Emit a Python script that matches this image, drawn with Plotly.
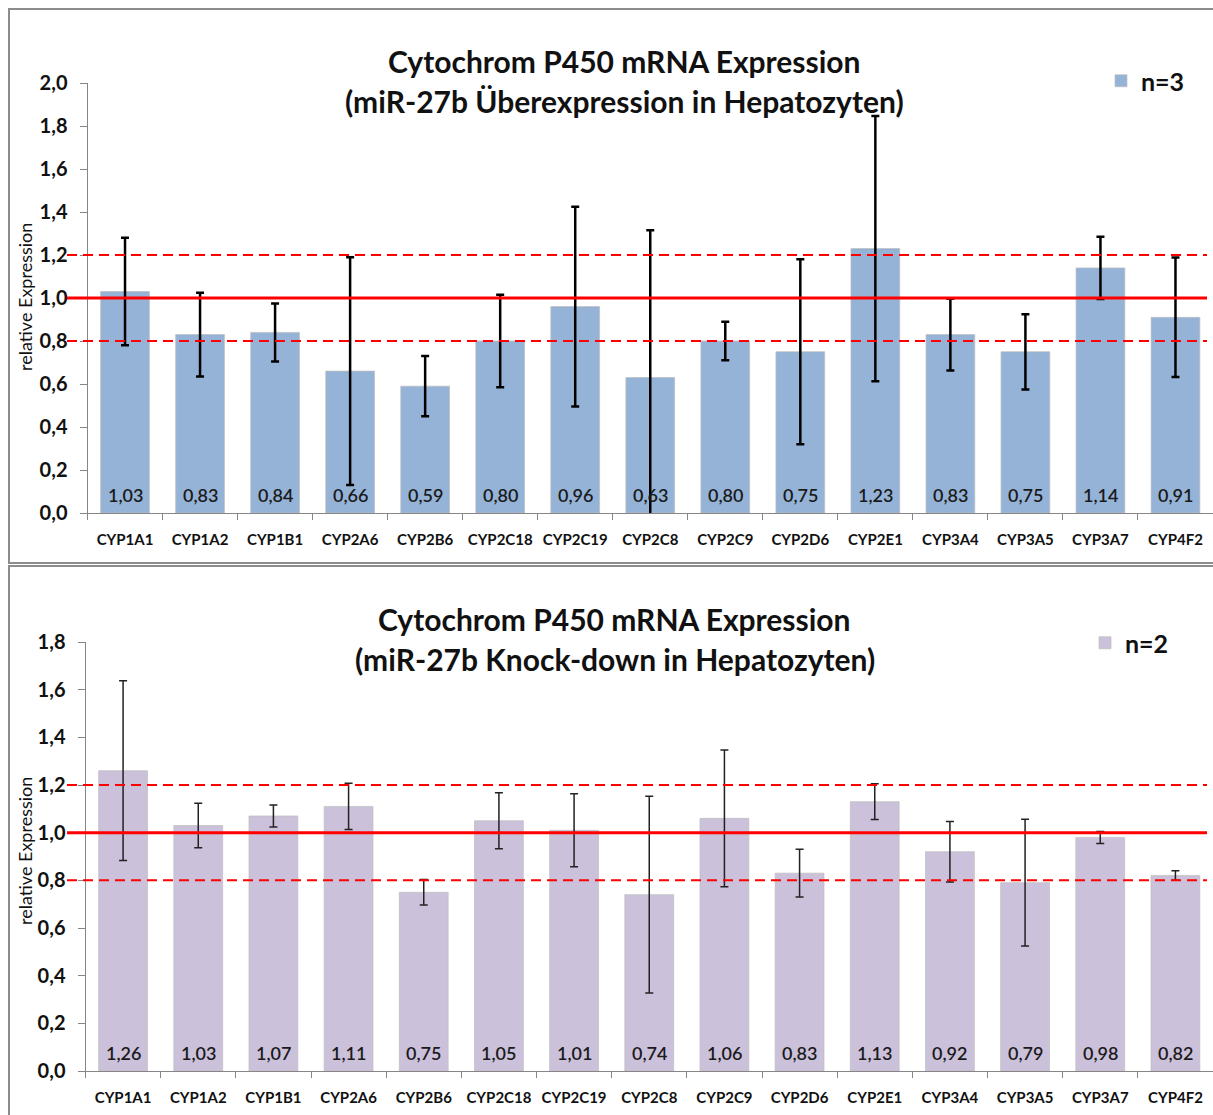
import plotly.graph_objects as go

W, H = 1213, 1115

# CYP450 genes measured by qPCR
genes = ["CYP1A1", "CYP1A2", "CYP1B1", "CYP2A6", "CYP2B6", "CYP2C18", "CYP2C19",
         "CYP2C8", "CYP2C9", "CYP2D6", "CYP2E1", "CYP3A4", "CYP3A5", "CYP3A7", "CYP4F2"]

# miR-27b overexpression (n=3): mean relative expression and error
over_mean = [1.03, 0.83, 0.84, 0.66, 0.59, 0.80, 0.96, 0.63, 0.80, 0.75, 1.23, 0.83, 0.75, 1.14, 0.91]
over_err = [0.25, 0.195, 0.135, 0.53, 0.14, 0.215, 0.465, 0.685, 0.09, 0.43, 0.617, 0.167, 0.175, 0.145, 0.278]

# miR-27b knock-down (n=2): mean relative expression and error
kd_mean = [1.26, 1.03, 1.07, 1.11, 0.75, 1.05, 1.01, 0.74, 1.06, 0.83, 1.13, 0.92, 0.79, 0.98, 0.82]
kd_err = [0.377, 0.093, 0.046, 0.097, 0.054, 0.117, 0.153, 0.413, 0.287, 0.10, 0.075, 0.127, 0.266, 0.025, 0.02]

# reference lines: baseline and +/-20 % band
ref_solid = 1.0
ref_band = [0.8, 1.2]

titles_top = ["Cytochrom P450 mRNA Expression", "(miR-27b Überexpression in Hepatozyten)"]
titles_bot = ["Cytochrom P450 mRNA Expression", "(miR-27b Knock-down in Hepatozyten)"]
ytitle = "relative Expression"

FONT = "Lato"
AXIS_GREY = "#868686"


def px(x):
    return x / W


def py(y):
    return 1 - y / H


fig = go.Figure()

fig.add_trace(go.Bar(
    x=genes, y=over_mean, name="n=3", width=0.65,
    marker=dict(color="#95B3D7", line=dict(color="rgba(190,190,190,0.7)", width=1)),
    error_y=dict(type="data", array=over_err, color="black", thickness=2.5, width=4),
    xaxis="x", yaxis="y", legend="legend",
))
fig.add_trace(go.Bar(
    x=genes, y=kd_mean, name="n=2", width=0.65,
    marker=dict(color="#CCC1DA", line=dict(color="rgba(190,190,190,0.7)", width=1)),
    error_y=dict(type="data", array=kd_err, color="#222222", thickness=1.5, width=4),
    xaxis="x2", yaxis="y2", legend="legend2",
))


def xaxis_cfg(x0, anchor):
    return dict(
        domain=[px(x0), 1.0], anchor=anchor, type="category",
        range=[-0.5, len(genes) - 0.5], automargin=False,
        showline=True, linecolor=AXIS_GREY, linewidth=1,
        ticks="outside", tickson="boundaries", ticklen=6, tickcolor=AXIS_GREY,
        tickfont=dict(family=FONT, size=15, color="#111111", weight="bold"),
        ticklabelstandoff=13, showgrid=False, zeroline=False, fixedrange=True,
    )


def yaxis_cfg(ytop, ybot, rng, anchor):
    return dict(
        domain=[py(ybot), py(ytop)], anchor=anchor, range=rng, dtick=0.2,
        tickformat=".1f", showgrid=False, zeroline=False, automargin=False,
        showline=True, linecolor=AXIS_GREY, linewidth=1,
        ticks="outside", ticklen=7, tickcolor=AXIS_GREY,
        tickfont=dict(family=FONT, size=20, color="#111111", weight="bold"),
        ticklabelstandoff=8, fixedrange=True,
    )


shapes = []
# panel frames
shapes.append(dict(type="rect", xref="paper", yref="paper", x0=px(9), x1=1.02,
                   y0=py(563), y1=py(9), line=dict(color="#8c8c8c", width=2), layer="below"))
shapes.append(dict(type="rect", xref="paper", yref="paper", x0=px(9), x1=1.02,
                   y0=py(1125), y1=py(566), line=dict(color="#8c8c8c", width=2), layer="below"))

# reference lines on both panels
for yref in ["y", "y2"]:
    shapes.append(dict(type="line", xref="paper", yref=yref, x0=px(67), x1=px(1207),
                       y0=ref_solid, y1=ref_solid, line=dict(color="#FF0000", width=3), layer="above"))
    for v in ref_band:
        shapes.append(dict(type="line", xref="paper", yref=yref, x0=px(67), x1=px(1207),
                           y0=v, y1=v, line=dict(color="#FF0000", width=2, dash="10px,6px"),
                           layer="above"))

annotations = []


def add_titles(lines, cx, y1, y2):
    for text, yy in zip(lines, [y1, y2]):
        annotations.append(dict(text=text, xref="paper", yref="paper", x=px(cx), y=py(yy),
                                xanchor="center", yanchor="middle", showarrow=False,
                                font=dict(family=FONT, size=30, color="#111111", weight="bold")))


add_titles(titles_top, 624, 61, 101)
add_titles(titles_bot, 615, 619, 659)

for cy in [297, 851]:
    annotations.append(dict(text=ytitle, xref="paper", yref="paper", x=px(25), y=py(cy),
                            xanchor="center", yanchor="middle", textangle=-90, showarrow=False,
                            font=dict(family=FONT, size=18, color="#111111")))

# value labels at the base of each bar
for xa, ya, vals in [("x", "y", over_mean), ("x2", "y2", kd_mean)]:
    for g, v in zip(genes, vals):
        annotations.append(dict(text=f"{v:.2f}".replace(".", ","), xref=xa, yref=ya, x=g, y=0,
                                yshift=18, xanchor="center", yanchor="middle", showarrow=False,
                                font=dict(family=FONT, size=18, color="#1a1a1a", weight=600)))

fig.update_layout(
    width=W, height=H, margin=dict(l=0, r=0, t=0, b=0, autoexpand=False),
    paper_bgcolor="white", plot_bgcolor="rgba(0,0,0,0)",
    separators=",.", barmode="group", showlegend=True,
    xaxis=xaxis_cfg(87.5, "y"),
    yaxis=yaxis_cfg(83, 513, [0, 2.0], "x"),
    xaxis2=xaxis_cfg(85.5, "y2"),
    yaxis2=yaxis_cfg(642, 1071, [0, 1.8], "x2"),
    legend=dict(x=px(1190), y=py(81), xanchor="right", yanchor="middle",
                bgcolor="rgba(0,0,0,0)", font=dict(family=FONT, size=25, color="#111111", weight="bold")),
    legend2=dict(x=px(1174), y=py(643), xanchor="right", yanchor="middle",
                 bgcolor="rgba(0,0,0,0)", font=dict(family=FONT, size=25, color="#111111", weight="bold")),
    shapes=shapes, annotations=annotations,
)

fig.write_html("out.html")
